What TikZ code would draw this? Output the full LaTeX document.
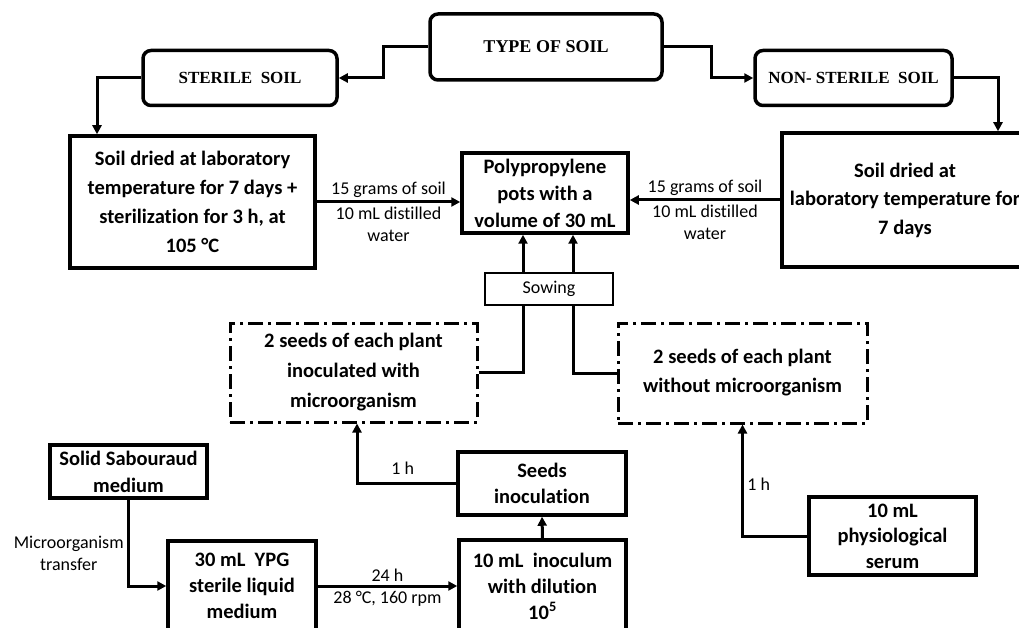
\documentclass[tikz,border=0pt]{standalone}
\usepackage{fontspec}
\setmainfont{Carlito}[Ligatures=NoCommon]
\newfontfamily\timesfont{Liberation Serif}
\usetikzlibrary{arrows.meta, calc}

\tikzset{
  softbox/.style={draw, line width=3.5pt, rounded corners=8pt, inner sep=0pt,
    font=\timesfont\bfseries\fontsize{17}{20}\selectfont},
  stepbox/.style={draw, line width=3.5pt, inner sep=0pt, align=center,
    font=\bfseries\fontsize{20.5}{#1}\selectfont},
  stepbox/.default=26,
  seedbox/.style={draw, line width=3pt, dash pattern=on 15pt off 5pt on 3pt off 5pt,
    inner sep=0pt, align=center, font=\bfseries\fontsize{20.5}{#1}\selectfont},
  seedbox/.default=29,
  flow/.style={line width=3pt, -{Triangle[length=9pt, width=9pt]}},
  link/.style={line width=3pt},
  lbl/.style={font=\fontsize{18}{22}\selectfont, align=center},
}

\begin{document}
\begin{tikzpicture}[x=1pt, y=-1pt]
        \clip (0,0) rectangle (1019,628);

        % Type of soil
        \node[softbox, minimum width=232pt, minimum height=66pt,
          font=\timesfont\bfseries\fontsize{18}{20}\selectfont] (type) at (546,47) {TYPE OF SOIL};
        \node[softbox, minimum width=194pt, minimum height=55pt] (sterile) at (240,78) {STERILE\ \ SOIL};
        \node[softbox, minimum width=197pt, minimum height=55pt] (nonsterile) at (853.5,78) {NON- STERILE\ \ SOIL};

        % Drying
        \node[stepbox=29, minimum width=245pt, minimum height=132pt] (dryL) at (192.5,202)
          {Soil dried at laboratory\\temperature for 7 days +\\sterilization for 3 h, at\\105 °C};
        \node[stepbox=28.5, minimum width=246pt, minimum height=134pt] (dryR) at (905,200)
          {Soil dried at\\laboratory temperature for\\7 days};

        % Pots
        \node[stepbox=27, minimum width=166pt, minimum height=80pt] (pots) at (545,193)
          {Polypropylene\\pots with a\\volume of 30 mL};

        % Sowing
        \node[draw, line width=2.5pt, lbl, minimum width=128pt, minimum height=32pt, inner sep=0pt]
          (sowing) at (549,289) {Sowing};

        % Seeds
        \node[seedbox=30, minimum width=247pt, minimum height=99pt] (seedsL) at (353.5,372.5)
          {2 seeds of each plant\\inoculated with\\microorganism};
        \node[seedbox, minimum width=249pt, minimum height=100pt] (seedsR) at (742.5,373)
          {2 seeds of each plant\\without microorganism};

        % Inoculation chain
        \node[stepbox, minimum width=168pt, minimum height=63pt] (seedsinoc) at (542,483.5)
          {Seeds\\inoculation};
        \node[stepbox, minimum width=167pt, minimum height=92pt] (inoc) at (542.5,586)
          {10 mL\ \ inoculum\\with dilution\\10\textsuperscript{5}};
        \node[stepbox, minimum width=148pt, minimum height=90pt] (ypg) at (242,586)
          {30 mL\ \ YPG\\sterile liquid\\medium};
        \node[stepbox=27, minimum width=157pt, minimum height=53pt] (sab) at (128.5,471.5)
          {Solid Sabouraud\\medium};
        \node[stepbox=25.5, minimum width=167pt, minimum height=78pt] (serum) at (892.5,536)
          {10 mL\\physiological\\serum};

        % Arrows top
        \draw[flow] (type.west) -- ++(-45,0) |- (sterile.east);
        \draw[flow] (type.east) -- ++(48,0) |- (nonsterile.west);
        \draw[flow] (sterile.west) -| ($(dryL.north)+(-95.5,0)$);
        \draw[flow] (nonsterile.east) -| ($(dryR.north)+(93,0)$);

        % Arrows to pots
        \draw[flow] (dryL.east) -- (dryL.east -| pots.west)
          node[midway, above, lbl] {15 grams of soil}
          node[midway, below, lbl] {10 mL distilled\\water};
        \draw[flow] (dryR.west) -- (dryR.west -| pots.east)
          node[midway, above, lbl] {15 grams of soil}
          node[midway, below, lbl] {10 mL distilled\\water};
        \draw[flow] ($(sowing.north)+(-26,0)$) -- ($(pots.south)+(-22,0)$);
        \draw[flow] ($(sowing.north)+(24,0)$) -- ($(pots.south)+(28,0)$);

        % Seeds to sowing
        \draw[link] (seedsL.east) -| ($(sowing.south)+(-26,0)$);
        \draw[link] (seedsR.west) -| ($(sowing.south)+(24,0)$);

        % Arrows bottom
        \draw[flow] (seedsinoc.west) -| ($(seedsL.south)+(3.5,0)$)
          node[pos=0.27, above=4pt, lbl] {1 h};
        \draw[flow] (inoc.north) -- (seedsinoc.south);
        \draw[flow] (ypg.east) -- (inoc.west)
          node[midway, above, lbl] {24 h}
          node[midway, below, lbl] {28 °C, 160 rpm};
        \draw[flow] (sab.south) |- (ypg.west)
          node[pos=0.31, left, lbl] {Microorganism\\transfer};
        \draw[flow] (serum.west) -| (seedsR.south)
          node[pos=0.73, right, lbl] {1 h};
    \end{tikzpicture}
\end{document}
